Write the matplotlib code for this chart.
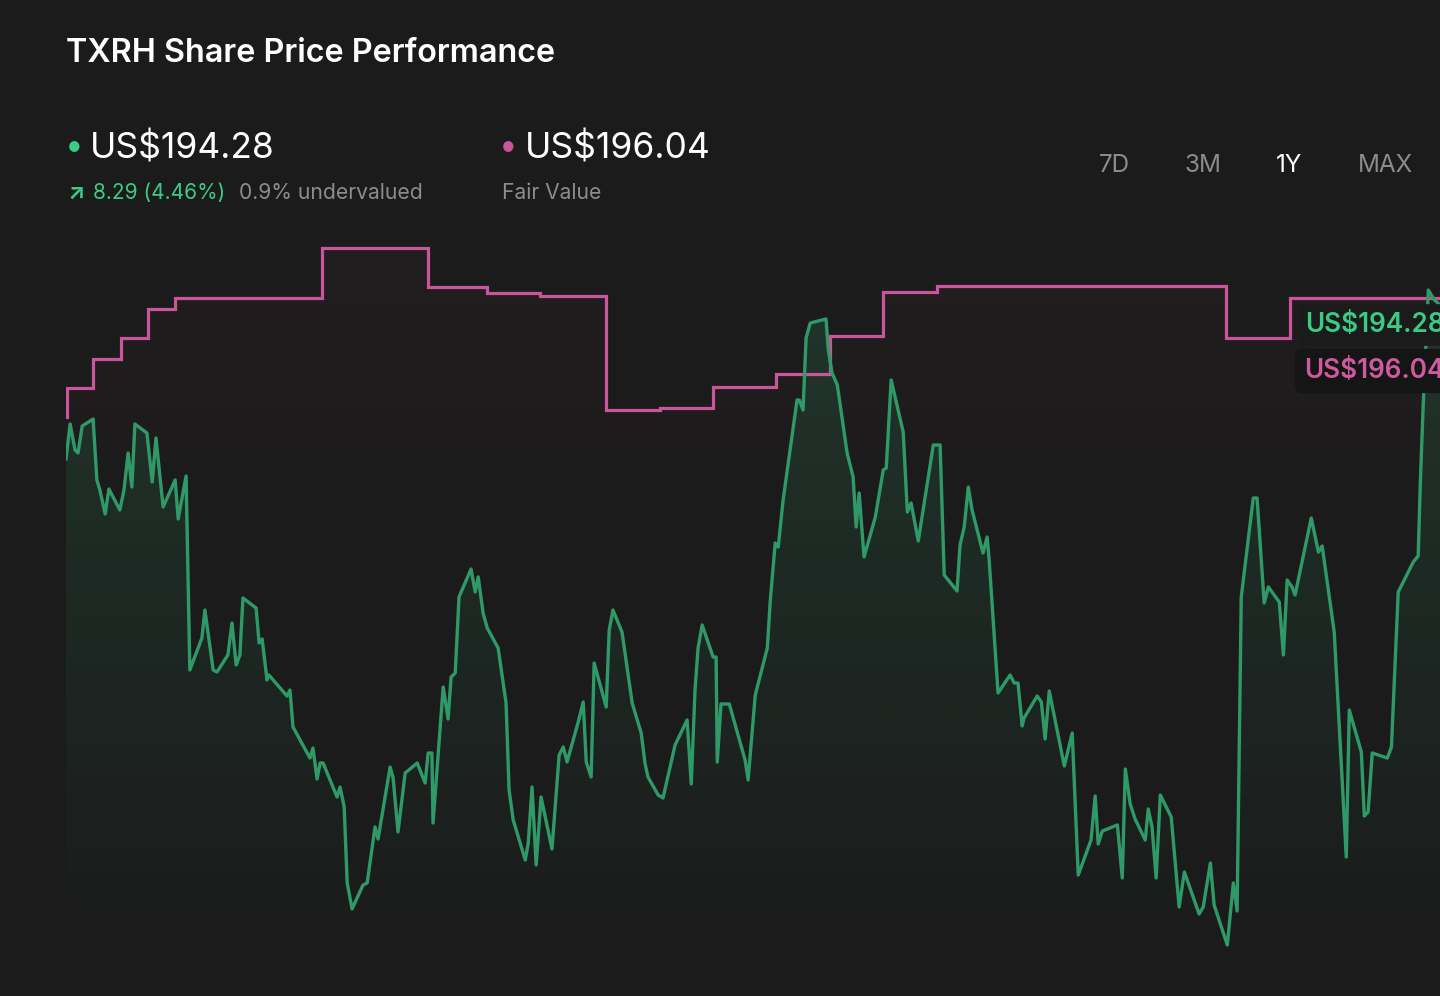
import numpy as np
import matplotlib
matplotlib.use("Agg")
import matplotlib.pyplot as plt
from matplotlib.colors import to_rgb
from matplotlib.patches import PathPatch

# ---------------- data ----------------
days = [0.0, 1.1, 2.4, 3.2, 4.3, 7.2, 8.2, 9.0, 10.4, 11.4, 14.3, 15.4, 16.5, 17.5, 18.3, 21.5, 22.9, 23.9, 25.8,
        29.0, 29.8, 31.9, 32.9, 36.1, 36.9, 39.1, 40.1, 43.0, 44.1, 45.2, 46.2, 47.0, 50.5, 51.3, 52.1, 53.4, 53.9,
        58.7, 59.5, 60.3, 64.8, 65.6, 66.7, 67.5, 68.3, 72.0, 72.8, 73.9, 74.7, 76.0, 78.9, 80.0, 82.1, 82.9, 86.1,
        86.9, 88.2, 90.1, 93.3, 95.4, 96.2, 97.2, 97.5, 100.2, 101.5, 102.3, 103.4, 104.4, 107.6, 108.7, 109.5,
        110.8, 111.9, 114.8, 116.9, 117.7, 118.8, 122.0, 122.8, 123.8, 124.9, 126.2, 129.1, 131.0, 132.1, 133.1,
        136.0, 137.4, 138.2, 139.5, 140.3, 143.5, 144.3, 145.3, 147.7, 150.4, 152.8, 153.8, 154.6, 157.3, 158.6,
        161.8, 165.0, 166.1, 167.1, 167.9, 169.0, 171.9, 172.7, 173.0, 174.0, 176.2, 180.4, 181.2, 183.1, 186.3,
        187.1, 188.4, 189.2, 190.5, 194.2, 194.8, 195.8, 196.6, 197.7, 201.9, 202.5, 203.5, 204.9, 207.5, 209.1,
        209.9, 210.7, 212.0, 215.0, 217.1, 217.9, 219.2, 222.4, 223.5, 224.5, 226.4, 230.4, 232.2, 233.3, 236.7,
        237.5, 238.6, 239.7, 240.7, 243.6, 244.7, 245.2, 247.6, 250.8, 251.9, 252.9, 254.0, 254.5, 258.0, 259.1,
        260.1, 261.2, 265.2, 267.3, 268.9, 272.3, 273.4, 274.2, 275.3, 279.3, 280.6, 281.4, 282.7, 284.0, 286.7,
        287.5, 288.5, 289.6, 290.7, 293.6, 295.7, 297.1, 301.0, 302.1, 304.0, 305.0, 308.5, 310.1, 311.1, 312.2,
        315.4, 316.4, 318.3, 319.4, 322.3, 323.4, 324.4, 325.7, 326.5, 330.8, 332.7, 333.7, 336.9, 340.1, 340.9,
        344.1, 344.9, 345.9, 347.0, 351.0, 352.1, 353.9, 357.9, 359.2, 359.8, 360.6, 361.9, 363.5, 365.0]

price = [179.94, 183.44, 180.84, 180.54, 183.24, 183.94, 177.84, 176.84, 174.44, 176.94, 174.84, 176.84, 180.54,
         177.14, 183.44, 182.54, 177.64, 182.04, 175.14, 177.84, 173.94, 178.24, 158.84, 162.04, 164.84, 158.84,
         158.64, 160.34, 163.54, 159.34, 160.34, 166.04, 165.04, 161.54, 161.94, 157.84, 158.34, 156.24, 156.84,
         153.14, 150.04, 151.04, 147.94, 149.54, 149.54, 146.14, 147.14, 145.14, 137.54, 134.94, 137.34, 137.54,
         143.14, 141.94, 149.14, 148.04, 142.64, 148.54, 149.54, 147.54, 150.54, 150.54, 143.54, 157.14, 153.94,
         158.14, 158.54, 166.14, 168.94, 166.64, 168.14, 164.54, 163.04, 161.04, 155.54, 146.84, 143.84, 139.84,
         141.54, 147.14, 139.34, 146.14, 140.94, 150.34, 151.14, 149.64, 153.54, 155.64, 149.64, 148.14, 159.54,
         155.14, 162.84, 164.84, 162.64, 155.54, 152.54, 149.54, 148.14, 146.34, 146.04, 151.34, 153.84, 147.44,
         156.84, 161.04, 163.34, 160.14, 160.14, 149.64, 155.44, 155.44, 149.84, 147.84, 156.34, 161.04, 165.84,
         171.54, 171.14, 175.84, 185.84, 185.84, 184.84, 192.04, 193.54, 193.94, 190.84, 188.54, 187.34, 180.54,
         178.14, 173.14, 176.54, 170.14, 174.14, 178.84, 179.04, 187.84, 182.64, 174.64, 175.54, 171.74, 181.34,
         181.34, 168.34, 166.74, 171.34, 173.14, 177.14, 174.84, 170.54, 172.14, 170.04, 156.54, 158.34, 157.54,
         157.54, 153.24, 154.04, 156.24, 155.64, 151.94, 156.74, 149.24, 152.54, 138.34, 141.84, 146.24, 141.44,
         142.74, 143.34, 138.04, 148.94, 145.44, 143.94, 141.84, 144.94, 143.14, 138.04, 146.34, 144.14, 135.14,
         138.64, 134.44, 135.14, 139.54, 135.34, 131.34, 137.54, 134.74, 166.14, 176.04, 176.04, 165.54, 167.14,
         165.64, 160.34, 167.84, 167.14, 166.34, 174.04, 170.64, 171.24, 162.64, 140.14, 154.84, 150.64, 144.24,
         144.64, 150.54, 150.04, 151.14, 166.64, 169.64, 170.24, 177.84, 185.94, 196.84, 195.84, 195.34]

fv_days = [0.0, 0.3, 7.2, 14.6, 21.8, 29.0, 68.0, 96.2, 111.9, 125.9, 143.5, 157.8, 171.9, 188.6, 203.0,
           217.1, 231.4, 308.2, 325.2, 365.0]
fv_vals = [184.14, 187.04, 189.94, 192.04, 194.94, 196.04, 201.04, 197.14, 196.54, 196.24, 184.84, 185.04,
           187.14, 188.44, 192.24, 196.64, 197.24, 192.04, 196.04, 196.04]

periods = ["7D", "3M", "1Y", "MAX"]
active_period = "1Y"

assert len(days) == len(price), (len(days), len(price))

# ---------------- style ----------------
BG = "#1b1b1b"
GREEN = "#2f9a68"
GREEN_TXT = "#3ccb87"
PINK = "#c9559a"
PINK_TXT = "#cf5a9f"
GRAY = "#8c8c8c"
FONT = ["Inter", "DejaVu Sans"]

W, H = 1440, 996
fig = plt.figure(figsize=(W / 100, H / 100), dpi=100, facecolor=BG)
ax = fig.add_axes([66 / W, 36 / H, 1374 / W, 730 / H])
ax.set_facecolor(BG)
YLO, YHI = 129.84, 202.84


def grad_fill(x, y, color, a_top, a_bot, v_top, v_bot, step=None, z=1):
    poly = ax.fill_between(x, y, YLO, step=step, facecolor="none", edgecolor="none")
    path = poly.get_paths()[0]
    patch = PathPatch(path, transform=ax.transData, facecolor="none", edgecolor="none")
    ax.add_patch(patch)
    n = 256
    rgba = np.zeros((n, 1, 4))
    rgba[..., :3] = to_rgb(color)
    rgba[:, 0, 3] = np.linspace(a_top, a_bot, n)
    im = ax.imshow(rgba, extent=[0, 365, v_bot, v_top], aspect="auto", origin="upper", zorder=z,
                   interpolation="bilinear")
    im.set_clip_path(patch)


grad_fill(fv_days, fv_vals, PINK, 0.045, 0.0, 201.5, 172.0, step="post", z=1)
grad_fill(days, price, GREEN, 0.20, 0.0, 194.0, 129.84, z=2)

ax.step(fv_days, fv_vals, where="post", color=PINK, lw=2.3, zorder=4, solid_joinstyle="miter")
ax.plot(days, price, color=GREEN, lw=2.4, zorder=5, solid_joinstyle="round")

ax.set_xlim(0, 365)
ax.set_ylim(YLO, YHI)
ax.axis("off")


def ftxt(x, y, s, **kw):
    kw.setdefault("family", FONT)
    return fig.text(x / W, 1 - y / H, s, **kw)


# title
ftxt(66, 54, "TXRH Share Price Performance", color="white", fontsize=23.3, fontweight="semibold", va="center")

# header values
ftxt(65, 148, "•", color=GREEN_TXT, fontsize=24, va="center")
ftxt(90, 148, "US$194.28", color="white", fontsize=25.5, va="center")
ftxt(68, 193, "↗", color=GREEN_TXT, fontsize=16, fontweight="bold", va="center")
ftxt(93, 193, "8.29 (4.46%)", color=GREEN_TXT, fontsize=15, va="center")
ftxt(239, 193, "0.9% undervalued", color=GRAY, fontsize=15.2, va="center")
ftxt(499, 148, "•", color=PINK, fontsize=24, va="center")
ftxt(525, 148, "US$196.04", color="white", fontsize=25.5, va="center")
ftxt(502, 193, "Fair Value", color=GRAY, fontsize=15.2, va="center")

# period buttons
for label, xc in zip(periods, [1114, 1203, 1289, 1385]):
    ftxt(xc, 165, label, color="white" if label == active_period else GRAY, fontsize=17.5,
         ha="center", va="center")

# right-side value labels
ftxt(1305, 325, "US$194.28", color=GREEN_TXT, fontsize=18.8, fontweight="semibold", va="center",
     bbox=dict(boxstyle="round,pad=0.3,rounding_size=0.3", facecolor="#1a1c1b", edgecolor="none"))
ftxt(1304, 371, "US$196.04", color=PINK_TXT, fontsize=18.8, fontweight="semibold", va="center",
     bbox=dict(boxstyle="round,pad=0.35,rounding_size=0.3", facecolor="#151515", edgecolor="none"))

fig.savefig("out.png", dpi=100, facecolor=BG)
